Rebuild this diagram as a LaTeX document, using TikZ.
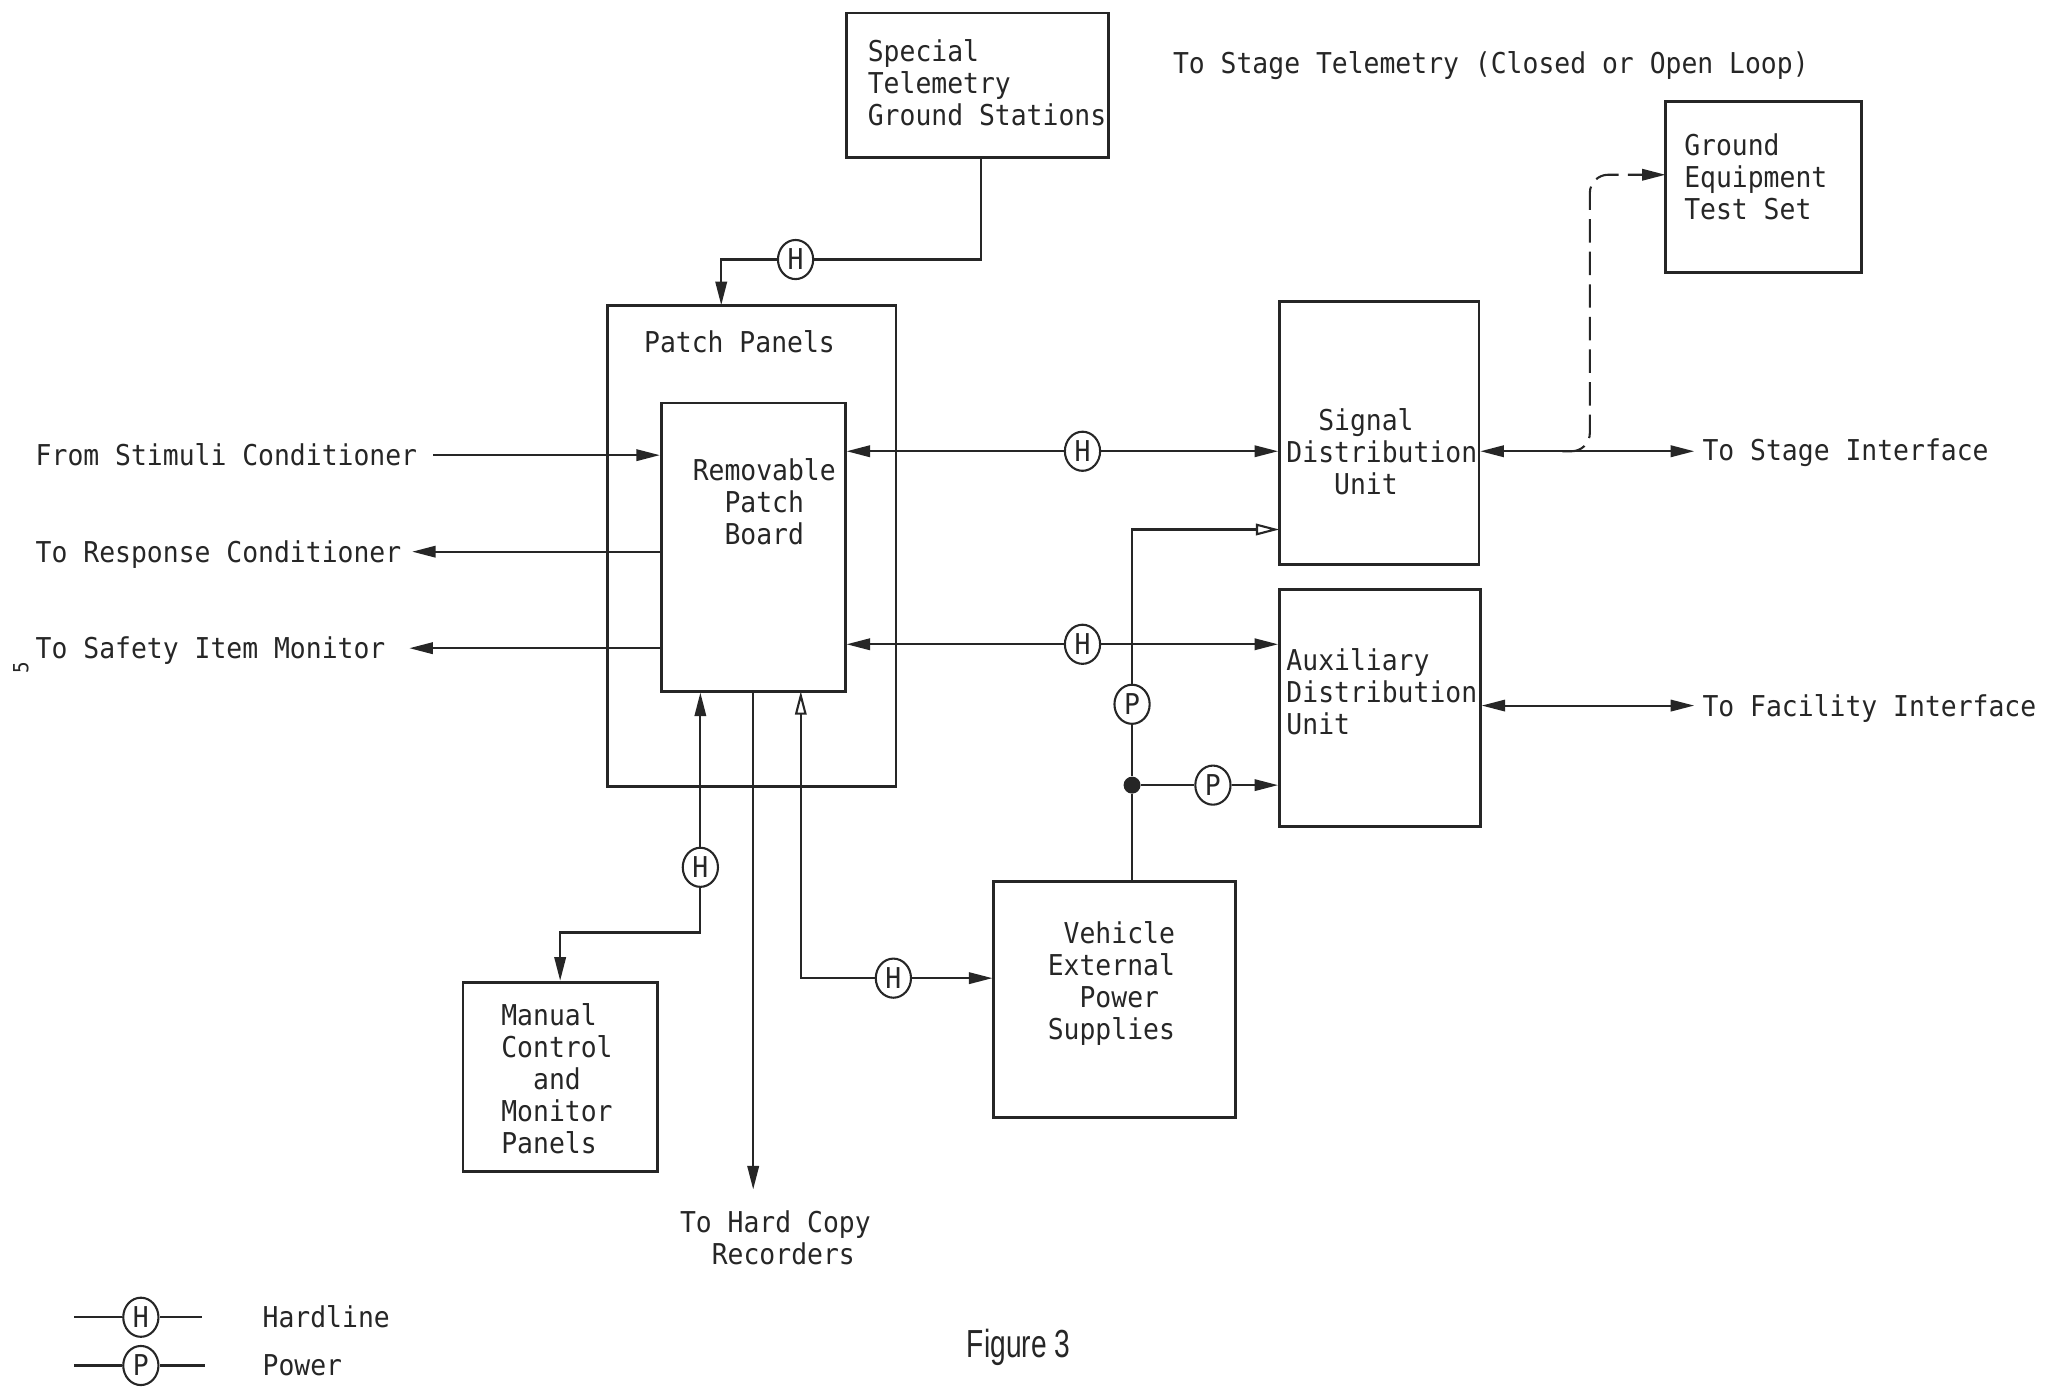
\documentclass[tikz,border=0pt]{standalone}
\usepackage{fontspec}
\newfontfamily\tw[FakeStretch=0.92]{DejaVu Sans Mono}
\newfontfamily\figfont[FakeStretch=0.72]{Liberation Sans}
\usetikzlibrary{arrows.meta,shapes.geometric,calc}
\definecolor{ink}{HTML}{262626}
\begin{document}
\begin{tikzpicture}[x=0.5pt,y=-0.5pt,
  >={Triangle[length=9pt,width=4.4pt]},
  otip/.style={-{Triangle[open,length=9pt,width=4.4pt]}},
  box/.style={draw=ink,line width=1.1pt,rectangle,inner sep=0pt},
  line/.style={draw=ink,line width=0.8pt},
  txt/.style={font={\tw\fontsize{11}{12.25}\selectfont},text=ink,inner sep=0pt},
  one/.style={txt,text height=8pt,text depth=0pt},
  hc/.style={ellipse,draw=ink,line width=0.8pt,minimum width=13.5pt,minimum height=15pt,inner sep=0pt,font={\tw\fontsize{11}{12}\selectfont},text=ink},
  dot/.style={circle,fill=ink,minimum size=6.5pt,inner sep=0pt},
  dashline/.style={line,dash pattern=on 9pt off 3.5pt}]
\useasboundingbox (0,0) rectangle (1568,1063);

% boxes
\node[box,minimum width=100.5pt,minimum height=55.5pt] (stgs) at (749.5,65.5) {};
\node[txt,align=left,anchor=north west] (stgsT) at (665,30) {Special\\Telemetry\\Ground Stations};
\node[one,anchor=west] (tst) at (899,48) {To Stage Telemetry (Closed or Open Loop)};

\node[box,minimum width=75pt,minimum height=65.5pt] (gets) at (1352,143.5) {};
\node[txt,align=left,anchor=north west] (getsT) at (1291,102) {Ground\\Equipment\\Test Set};

\node[box,minimum width=110.5pt,minimum height=184.5pt] (pp) at (576.5,418.5) {};
\node[one] (ppT) at (567,262) {Patch Panels};

\node[box,minimum width=70.5pt,minimum height=110.5pt] (rpb) at (577.5,419.5) {};
\node[txt,align=center,anchor=north] (rpbT) at (586,351) {Removable\\Patch\\Board};

\node[box,minimum width=76.5pt,minimum height=101pt] (sdu) at (1057.5,332) {};
\node[txt,align=left,anchor=north west] (sduT) at (986,313) {\hphantom{XX}Signal\\Distribution\\\hphantom{XXX}Unit};

\node[box,minimum width=77pt,minimum height=91pt] (adu) at (1058,543) {};
\node[txt,align=left,anchor=north west] (aduT) at (986,497) {Auxiliary\\Distribution\\Unit};

\node[box,minimum width=92.5pt,minimum height=90.5pt] (veps) at (854.5,766.5) {};
\node[txt,align=left,anchor=north west] (vepsT) at (803,706) {\hphantom{X}Vehicle\\External\\\hphantom{XX}Power\\Supplies};

\node[box,minimum width=74.5pt,minimum height=72.5pt] (mcmp) at (429.5,825.5) {};
\node[txt,align=left,anchor=north west] (mcmpT) at (384,769) {Manual\\Control\\\hphantom{XX}and\\Monitor\\Panels};

\node[txt,align=left,anchor=north west] (hcr) at (521,928) {To Hard Copy\\\hphantom{XX}Recorders};

% outer labels
\node[one,anchor=west] (fsc) at (27,349) {From Stimuli Conditioner};
\node[one,anchor=west] (trc) at (27,423) {To Response Conditioner};
\node[one,anchor=west] (tsim) at (27,497) {To Safety Item Monitor};
\node[one,anchor=west] (tsi) at (1305,345) {To Stage Interface};
\node[one,anchor=west] (tfi) at (1305,541) {To Facility Interface};

% line symbols
\node[hc] (h1) at (610,199) {H};
\node[hc] (h2) at (830,346) {H};
\node[hc] (h3) at (830,494) {H};
\node[hc] (h5) at (537,665) {H};
\node[hc] (h6) at (685,750) {H};
\node[hc] (p1) at (868,540) {P};
\node[hc] (p2) at (930,602) {P};
\node[dot] (jn) at (868,602) {};

% coordinates
\coordinate (stOut) at (752,121);
\coordinate (ppIn) at (553,234);
\coordinate (dS) at (1198,346);
\coordinate (dC) at (1219,134);
\coordinate (gIn) at (1277,134);
\coordinate (sduP) at (981,406);
\coordinate (mcA) at (537,715);
\coordinate (hcEnd) at (577.5,912);
\coordinate (rpbC) at (614,530);

% connectors
\draw[line] (stOut) |- (h1);
\draw[line,->] (h1) -| (ppIn);

\draw[line,->,shorten <=6pt] (fsc.east) -- (fsc.east -| rpb.west);
\draw[line,->,shorten >=4pt] (trc.east -| rpb.west) -- (trc.east);
\draw[line,->,shorten >=9pt] (tsim.east -| rpb.west) -- (tsim.east);

\draw[line,<-] (rpb.east |- h2) -- (h2);
\draw[line,->] (h2) -- (sdu.west |- h2);
\draw[line,<-] (rpb.east |- h3) -- (h3);
\draw[line,->] (h3) -- (adu.west |- h3);

\draw[line,<->,shorten >=3pt] (sdu.east |- dS) -- (dS -| tsi.west);
\draw[dashline,->,rounded corners=7pt] (dS) -| (dC) -- (gIn);
\draw[line,<->,shorten >=3pt] (adu.east |- tfi.west) -- (tfi.west);

\draw[line] (veps.north -| jn) -- (jn) -- (p1);
\draw[line,otip] (p1) |- (sduP);
\draw[line] (jn) -- (p2);
\draw[line,->] (p2) -- (adu.west |- p2);

\draw[line,->] (h5) -- (h5 |- rpb.south);
\draw[line,->] (h5) -- (mcA) -| (mcmp.north);
\draw[line,->] (rpb.south) -- (hcEnd);
\draw[line,otip] (h6) -| (rpbC);
\draw[line,->] (h6) -- (h6 -| veps.west);

% legend
\node[hc] (lH) at (108,1010) {H};
\node[hc] (lP) at (108,1047) {P};
\coordinate (lH1) at (57,1010);
\coordinate (lH2) at (155,1010);
\coordinate (lP1) at (57,1047);
\coordinate (lP2) at (157,1047);
\draw[line] (lH1) -- (lH) -- (lH2);
\draw[line] (lP1) -- (lP) -- (lP2);
\node[one,anchor=west] (lHT) at (201,1010) {Hardline};
\node[one,anchor=west] (lPT) at (201,1047) {Power};
\node[font={\figfont\fontsize{15}{18}\selectfont},text=ink,inner sep=0pt] (fig) at (781,1033) {Figure 3};
\node[font={\tw\fontsize{8}{9}\selectfont},text=ink,inner sep=0pt,rotate=90] (pg) at (16,512) {5};
\end{tikzpicture}
\end{document}
